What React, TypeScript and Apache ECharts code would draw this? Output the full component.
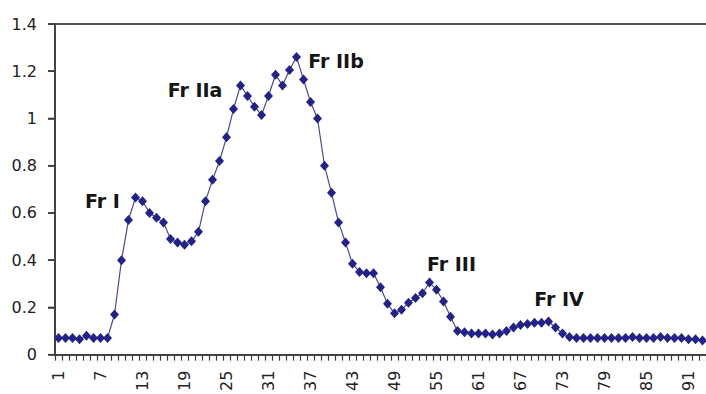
import React, { useEffect, useRef } from "react";
import * as echarts from "echarts";

const fractions: number[] = [
  0.07, 0.07, 0.07, 0.065, 0.08, 0.07, 0.07, 0.07, 0.17, 0.40,
  0.57, 0.665, 0.65, 0.60, 0.58, 0.56, 0.49, 0.475, 0.465, 0.48,
  0.52, 0.65, 0.74, 0.82, 0.92, 1.04, 1.14, 1.095, 1.05, 1.015,
  1.095, 1.185, 1.14, 1.205, 1.26, 1.165, 1.07, 1.0, 0.80, 0.685,
  0.56, 0.475, 0.385, 0.35, 0.345, 0.345, 0.285, 0.215, 0.175, 0.19,
  0.22, 0.24, 0.26, 0.305, 0.275, 0.225, 0.16, 0.10, 0.095, 0.09,
  0.09, 0.09, 0.085, 0.09, 0.10, 0.115, 0.125, 0.13, 0.135, 0.135,
  0.14, 0.115, 0.09, 0.075, 0.07, 0.07, 0.07, 0.07, 0.07, 0.07,
  0.07, 0.07, 0.075, 0.07, 0.07, 0.07, 0.075, 0.07, 0.07, 0.07,
  0.065, 0.065, 0.06, 0.055,
];
const categories: string[] = fractions.map((_, i) => String(i + 1));

const peakNames: string[] = ["Fr I", "Fr IIa", "Fr IIb", "Fr III", "Fr IV"];
const peakIndex: number[] = [12, 27, 35, 54, 71];
const peakOffsets: [number, number][] = [
  [-33, 3.5],
  [-45.5, 4.5],
  [39.5, 3.5],
  [22, -19],
  [10.5, -23],
];

const yTicks: number[] = [0, 0.2, 0.4, 0.6, 0.8, 1, 1.2, 1.4];

export default function App() {
  const ref = useRef<HTMLDivElement>(null);
  useEffect(() => {
    if (!ref.current) return;
    const chart = echarts.init(ref.current, undefined, { renderer: "svg" });
    chart.setOption({
      animation: false,
      backgroundColor: "#ffffff",
      grid: {
        left: 55,
        top: 24,
        bottom: 38,
        width: categories.length * 7,
        containLabel: false,
      },
      xAxis: [
        {
          type: "category",
          data: categories,
          boundaryGap: true,
          position: "bottom",
          axisLine: { show: true, onZero: false, lineStyle: { color: "#444444", width: 2 } },
          axisTick: {
            show: true,
            interval: 0,
            length: 6,
            lineStyle: { color: "#3a3a3a", width: 1.2 },
          },
          axisLabel: {
            show: true,
            interval: 5,
            rotate: 90,
            margin: 16,
            fontFamily: "DejaVu Sans",
            fontSize: 16,
            color: "#222222",
          },
          splitLine: { show: false },
        },
        {
          type: "category",
          data: categories,
          position: "top",
          axisLine: { show: true, onZero: false, lineStyle: { color: "#555555", width: 2 } },
          axisTick: { show: false },
          axisLabel: { show: false },
          splitLine: { show: false },
        },
      ],
      yAxis: {
        type: "value",
        min: yTicks[0],
        max: yTicks[yTicks.length - 1],
        interval: 0.2,
        axisLine: { show: true, onZero: false, lineStyle: { color: "#444444", width: 2 } },
        axisTick: {
          show: true,
          length: 7,
          lineStyle: { color: "#3a3a3a", width: 1.5 },
        },
        axisLabel: {
          margin: 18,
          fontFamily: "DejaVu Sans",
          fontSize: 16,
          color: "#222222",
          formatter: (v: number) => String(Math.round(v * 10) / 10),
        },
        splitLine: { show: false },
      },
      series: [
        {
          type: "custom",
          silent: true,
          clip: false,
          z: 1,
          data: yTicks.map((v) => [0, v]),
          encode: { x: 0, y: 1 },
          renderItem: (params: any, api: any) => {
            const p = api.coord([api.value(0), api.value(1)]);
            const half = api.size([1, 0])[0] / 2;
            const x0 = p[0] - half;
            return {
              type: "line",
              shape: { x1: x0 - 7, y1: p[1], x2: x0, y2: p[1] },
              style: { stroke: "#3a3a3a", lineWidth: 1.5 },
            };
          },
        },
        {
          type: "line",
          data: fractions,
          symbol: "diamond",
          symbolSize: [9, 10],
          showAllSymbol: true,
          z: 3,
          lineStyle: { color: "#4a4a90", width: 1.2 },
          itemStyle: { color: "#22228a" },
          markPoint: {
            symbol: "circle",
            symbolSize: 1,
            itemStyle: { color: "rgba(0,0,0,0)" },
            data: peakNames.map((name, k) => ({
              coord: [categories[peakIndex[k] - 1], fractions[peakIndex[k] - 1]],
              label: {
                show: true,
                position: "inside",
                formatter: name,
                offset: peakOffsets[k],
                fontFamily: "DejaVu Sans",
                fontWeight: "bold",
                fontSize: 19,
                color: "#151515",
              },
            })),
          },
        },
      ],
    });
    return () => chart.dispose();
  }, []);
  return (
    <div
      style={{
        position: "fixed",
        left: 0,
        top: 0,
        width: 706,
        height: 394,
        overflow: "hidden",
        background: "#ffffff",
      }}
    >
      <div ref={ref} style={{ width: 740, height: 394 }} />
    </div>
  );
}
